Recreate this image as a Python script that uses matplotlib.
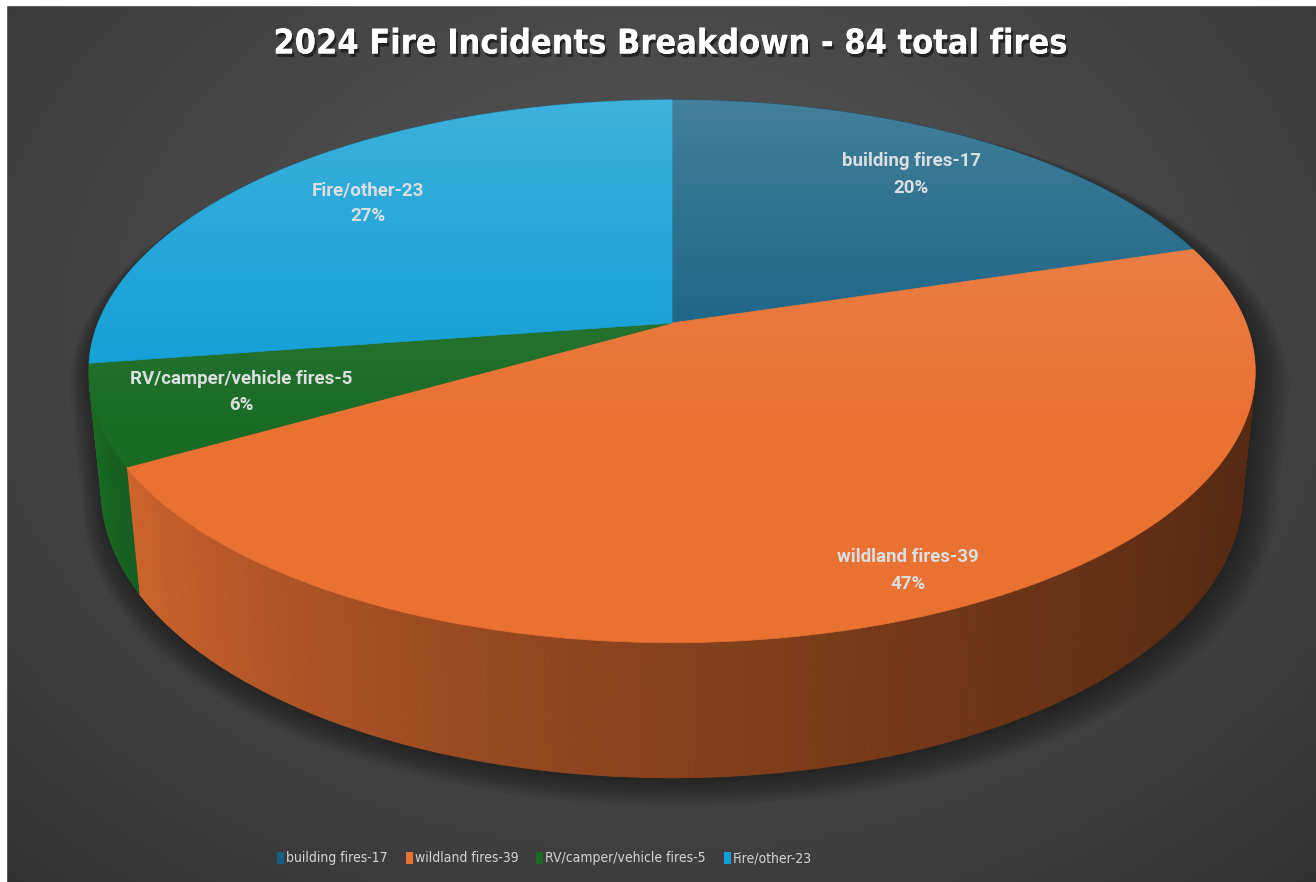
import numpy as np
import matplotlib
matplotlib.use("Agg")
import matplotlib.pyplot as plt
from matplotlib.patches import Polygon, Rectangle
from matplotlib import patheffects, font_manager, colors as mcolors
from matplotlib.font_manager import FontProperties

# data
categories = ["building fires", "wildland fires", "RV/camper/vehicle fires", "Fire/other"]
counts = [17, 39, 5, 23]
pct_labels = ["20%", "47%", "6%", "27%"]
slice_colors = ["#156082", "#E97132", "#196B24", "#0F9ED5"]
title = "2024 Fire Incidents Breakdown - 84 total fires"

W, H = 1316, 882
fig = plt.figure(figsize=(W / 100, H / 100), dpi=100)
ax = fig.add_axes([0, 0, 1, 1])
ax.set_xlim(0, W)
ax.set_ylim(H, 0)
ax.axis("off")


# pick a narrow face for the title and legend if one is installed
def find_font(keys, bold):
    for f in font_manager.fontManager.ttflist:
        fn = f.fname.replace("-", "").replace("_", "").lower()
        if any(k in fn for k in keys) and (("bold" in fn) == bold) and "oblique" not in fn and "italic" not in fn:
            return f.fname
    return None


title_file = find_font(["sansnarrow", "sanscondensed", "condensed"], True)
legend_file = find_font(["sansnarrow", "sanscondensed", "condensed"], False)
names = {f.name for f in font_manager.fontManager.ttflist}
label_font = "Roboto" if "Roboto" in names else "DejaVu Sans"

if title_file:
    title_fp = FontProperties(fname=title_file, size=24.5)
else:
    title_fp = FontProperties(family=label_font, weight="bold", size=23)
if legend_file:
    legend_fp = FontProperties(fname=legend_file, size=10)
else:
    legend_fp = FontProperties(family=label_font, size=9.5)

# background: soft radial gradient
yy, xx = np.mgrid[0:H, 0:W]
d = np.sqrt((xx - 660) ** 2 + ((yy - 330) * 1.3) ** 2) / 900
g = np.clip(0.33 - 0.12 * d ** 1.3, 0.19, 0.335)
bg = np.dstack([g, g, g])
ax.imshow(bg, extent=[0, W, H, 0], zorder=0, aspect="auto")
ax.add_patch(Rectangle((0, 0), W, 5, color="white", zorder=20))
ax.add_patch(Rectangle((0, 0), 6, H, color="white", zorder=20))

# perspective camera for the 3D pie
CX, CY = 672, 323
F, D = 2870.0, 5.0
phi = np.radians(27.25)
cphi, sphi = np.cos(phi), np.sin(phi)
thick = 0.237


def project(u, v, z):
    depth = v * cphi + D - z * sphi
    up = v * sphi + z * cphi
    return CX + F * u / depth, CY - F * up / depth


def rim(t, z, r=1.0):
    return project(r * np.sin(t), r * np.cos(t), z)


total = sum(counts)
bounds = np.concatenate([[0], np.cumsum(counts)]) / total * 2 * np.pi


def hull(pts):
    pts = sorted(map(tuple, pts))

    def cross(o, a, b):
        return (a[0] - o[0]) * (b[1] - o[1]) - (a[1] - o[1]) * (b[0] - o[0])

    lower, upper = [], []
    for p in pts:
        while len(lower) >= 2 and cross(lower[-2], lower[-1], p) <= 0:
            lower.pop()
        lower.append(p)
    for p in reversed(pts):
        while len(upper) >= 2 and cross(upper[-2], upper[-1], p) <= 0:
            upper.pop()
        upper.append(p)
    return np.array(lower[:-1] + upper[:-1])


# soft drop shadow under the pie
ts = np.linspace(0, 2 * np.pi, 240)
for k in range(12):
    s = 1 + 0.004 * k
    px1, py1 = rim(ts, 0, s)
    px2, py2 = rim(ts, -thick, s)
    sil = hull(np.column_stack([np.r_[px1, px2] + 2 + 0.5 * k, np.r_[py1, py2] + 3 + 0.7 * k]))
    ax.add_patch(Polygon(sil, closed=True, facecolor="black", edgecolor="none", alpha=0.04, zorder=1))

# side wall, shaded by angle (lit from the left)
vis_limit = np.arccos(-1 / (D * cphi))
for i, col in enumerate(slice_colors):
    base = np.array(mcolors.to_rgb(col))
    a0, a1 = max(bounds[i], vis_limit), min(bounds[i + 1], 2 * np.pi - vis_limit)
    if a1 <= a0:
        continue
    tt = np.linspace(a0, a1, max(4, int(np.degrees(a1 - a0) * 2)))
    for t0, t1 in zip(tt[:-1], tt[1:]):
        tm = 0.5 * (t0 + t1)
        frac = (tm - vis_limit) / (2 * np.pi - 2 * vis_limit)
        shade = 0.37 + 0.63 * frac ** 1.6
        c = np.clip(base * shade, 0, 1)
        xa, ya = rim(np.array([t0, t1]), 0)
        xb, yb = rim(np.array([t1, t0]), -thick)
        quad = np.column_stack([np.r_[xa, xb], np.r_[ya, yb]])
        ax.add_patch(Polygon(quad, closed=True, facecolor=c, edgecolor=c, linewidth=0.6, zorder=2))

# top faces
for i, col in enumerate(slice_colors):
    tt = np.linspace(bounds[i], bounds[i + 1], 200)
    x, y = rim(tt, 0)
    pts = np.column_stack([np.r_[CX, x], np.r_[CY, y]])
    ax.add_patch(Polygon(pts, closed=True, facecolor=col, edgecolor=col, linewidth=0.5, zorder=3))

# light sheen over the top, brighter toward the back edge
tx, ty = rim(ts, 0)
top_clip = Polygon(np.column_stack([tx, ty]), closed=True, facecolor="none", edgecolor="none")
ax.add_patch(top_clip)
alpha = np.clip((460 - np.arange(H)) / 360, 0, 1) ** 1.4 * 0.2
sheen = np.ones((H, 1, 4))
sheen[:, 0, 3] = alpha
im = ax.imshow(sheen, extent=[0, W, H, 0], zorder=4, aspect="auto")
im.set_clip_path(top_clip)

# data labels
label_r = [0.78, 0.88, 0.76, 0.76]
for i, (cat, n, pct) in enumerate(zip(categories, counts, pct_labels)):
    tm = 0.5 * (bounds[i] + bounds[i + 1])
    lx, ly = rim(tm, 0, label_r[i])
    ax.text(lx, ly, f"{cat}-{n}\n{pct}", ha="center", va="center", fontsize=13.5,
            fontweight="bold", color="#DCDFE2", family=label_font, linespacing=1.6, zorder=6)

# title with drop shadow
ax.text(670, 44, title, ha="center", va="center", fontproperties=title_fp,
        color="white", zorder=6,
        path_effects=[patheffects.withSimplePatchShadow(offset=(1.5, -2.5), shadow_rgbFace="black", alpha=0.5),
                      patheffects.Normal()])

# legend row, items flowed left to right
fig.canvas.draw()
renderer = fig.canvas.get_renderer()
x0 = 277
for cat, n, col in zip(categories, counts, slice_colors):
    ax.add_patch(Rectangle((x0, 852), 7, 12, facecolor=col, edgecolor="none", zorder=6))
    t = ax.text(x0 + 9, 858, f"{cat}-{n}", ha="left", va="center", fontproperties=legend_fp,
                color="#D4D4D4", zorder=6)
    bb = t.get_window_extent(renderer)
    x0 = x0 + 9 + bb.width + 18

fig.savefig("out.png", dpi=100)
